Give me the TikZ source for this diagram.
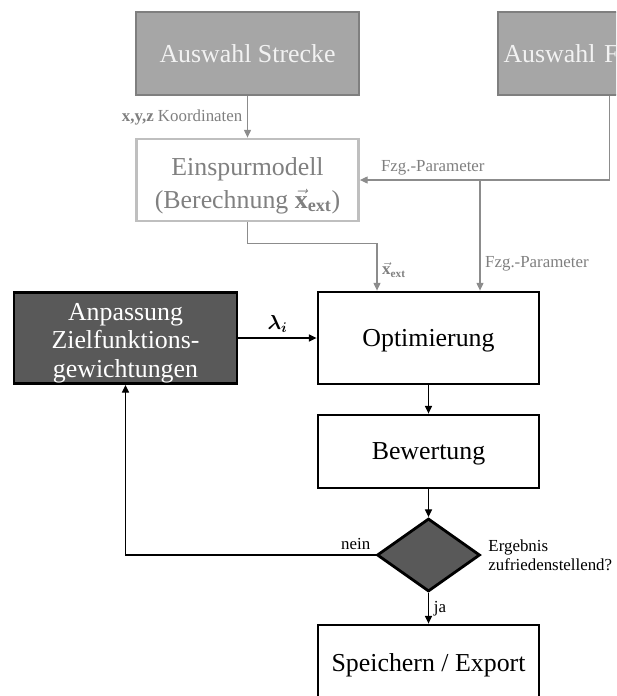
\documentclass[tikz,border=0pt]{standalone}
\usepackage{fontspec}
\setmainfont{Liberation Serif}
\usepackage{amsmath}
\usetikzlibrary{positioning,arrows.meta,shapes.geometric}

\definecolor{boxgray}{HTML}{A6A6A6}
\definecolor{edgegray}{HTML}{7F7F7F}
\definecolor{textlight}{HTML}{F2F2F2}
\definecolor{lightedge}{HTML}{BFBFBF}
\definecolor{textgray}{HTML}{808080}
\definecolor{linegray}{HTML}{8C8C8C}
\definecolor{darkfill}{HTML}{595959}

\begin{document}
\begin{tikzpicture}[on grid, >={Triangle[length=5.5pt,width=5pt]},
    font=\fontsize{18.4}{20.3}\selectfont,
    graybox/.style={draw=edgegray, fill=boxgray, text=textlight, line width=2pt,
      minimum width=5.575cm, minimum height=2.075cm},
    lightbox/.style={draw=lightedge, fill=white, text=textgray, line width=2pt,
      minimum width=5.55cm, minimum height=2.05cm, align=center},
    darkbox/.style={draw=black, fill=darkfill, text=white, line width=2pt,
      inner ysep=0pt, minimum width=5.575cm, minimum height=2.275cm, align=center},
    wbox/.style={draw=black, fill=white, line width=2pt, text depth=0pt,
      minimum width=5.525cm, minimum height=2.3cm},
    decision/.style={diamond, draw=black, fill=darkfill, line width=2pt,
      inner sep=0pt, minimum width=2.575cm, minimum height=1.825cm},
    lbl/.style={font=\fontsize{12}{13.5}\selectfont},
    glbl/.style={lbl, text=edgegray},
    gline/.style={draw=linegray, line width=0.75pt},
    bline/.style={draw=black, line width=0.9pt}]
    \useasboundingbox (0,0) rectangle (15.4,-17.4);%
    \clip (0,0) rectangle (15.4,-17.4);%
    % main loop
    \node[wbox] (opt) at (10.7125,-8.45) {Optimierung};%
    \node[wbox, minimum height=1.825cm] (bew) [below=2.8375cm of opt] {Bewertung};%
    \node[decision, label={[glbl, text=black, align=left, label distance=1.5pt]right:Ergebnis\\zufriedenstellend?}]
    (check) [below=2.5875cm of bew] {};%
    \node[wbox, minimum height=1.9cm] (save) [below=2.7cm of check] {Speichern / Export};%
    \node[darkbox] (adapt) [left=7.575cm of opt] {\rule{0pt}{19.5pt}Anpassung\\Zielfunktions-\\gewichtungen};%
    % inputs
    \node[lightbox] (model) [above left=3.95cm and 4.525cm of opt]
    {\rule{0pt}{21pt}Einspurmodell\\[3pt](Berechnung $\vec{\mathbf{x}}_{\mathbf{ext}}$)};%
    \node[graybox] (track) [above=3.1625cm of model] {Auswahl Strecke};%
    \node[graybox, text width=5.3cm, inner xsep=0pt, align=left] (car) [right=9.05cm of track] {Auswahl F};%

    \draw[gline,->] (track) -- node[glbl, left] {\textbf{x,y,z} Koordinaten} (model);
    \draw[gline,->] (car.south) |- node[glbl, above, pos=0.854] {Fzg.-Parameter} (model.east);
    \coordinate (split) at ([xshift=1.2875cm]opt.north |- model.east);
    \draw[gline,->] (split) -- node[glbl, right, pos=0.76] {Fzg.-Parameter} ([xshift=1.2875cm]opt.north);
    \draw[gline,->] (model.south) -- ++(0,-0.525) -| node[glbl, right, pos=0.78]
    {$\vec{\mathbf{x}}_{\mathbf{ext}}$} ([xshift=-1.2875cm]opt.north);

    \draw[bline,->] (adapt) -- node[lbl, above, font=\fontsize{14}{16}\selectfont] {$\boldsymbol{\lambda_i}$} (opt);
    \draw[bline,->] (opt) -- (bew);
    \draw[bline,->] (bew) -- (check);
    \draw[bline,->] (check) -- node[lbl, right] {ja} (save);
    \draw[bline,->] (check.west) -| node[lbl, above left, pos=0] {nein} (adapt.south);
  \end{tikzpicture}
\end{document}
